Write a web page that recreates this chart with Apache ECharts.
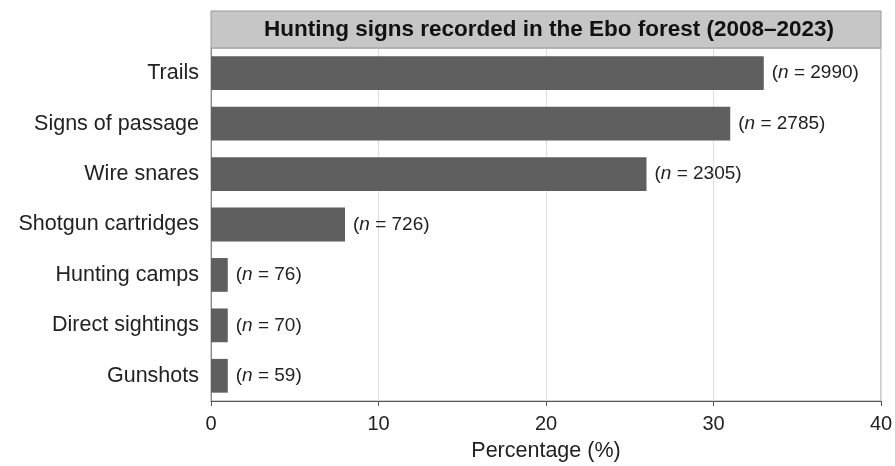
<!DOCTYPE html>
<html><head><meta charset="utf-8">
<script src="https://cdn.jsdelivr.net/npm/echarts@6/dist/echarts.min.js"></script>
<style>html,body{margin:0;padding:0;background:#fff}#c{width:895px;height:466px}</style>
</head><body><div id="c"></div>
<script>
const titleText = 'Hunting signs recorded in the Ebo forest (2008\u20132023)';
const categories = ['Trails','Signs of passage','Wire snares','Shotgun cartridges','Hunting camps','Direct sightings','Gunshots'];
const percentages = [33, 31, 26, 8, 1, 1, 1];
const counts = [2990, 2785, 2305, 726, 76, 70, 59];
const xTicks = [0, 10, 20, 30, 40];
const xAxisName = 'Percentage (%)';

const chart = echarts.init(document.getElementById('c'), null, {renderer:'canvas'});
const font = 'Arial, "Liberation Sans", Helvetica, sans-serif';
chart.setOption({
  animation:false,
  backgroundColor:'#fff',
  grid:{left:211, right:14, top:48, bottom:65, show:true, borderColor:'#a0a0a0', borderWidth:1,
    containLabel:false, outerBoundsMode:'none'},
  graphic:[
    {type:'rect', shape:{x:211, y:11, width:670, height:37}, style:{fill:'#c6c6c6', stroke:'#9a9a9a', lineWidth:1}, z:10},
    {type:'text', x:549, y:30, style:{text:titleText, font:'bold 22.5px '+font, fill:'#111', textAlign:'center', textVerticalAlign:'middle'}, z:11}
  ],
  xAxis:{type:'value', min:xTicks[0], max:xTicks[xTicks.length-1], interval:10,
    name:xAxisName, nameLocation:'middle', nameGap:39,
    nameTextStyle:{fontSize:21.5, color:'#222', fontFamily:font},
    axisLine:{show:true, lineStyle:{color:'#555', width:1}},
    axisTick:{show:true, length:5, lineStyle:{color:'#555'}},
    axisLabel:{fontSize:20, color:'#222', fontFamily:font, margin:13},
    splitLine:{show:true, lineStyle:{color:'#dedede', width:1}}
  },
  yAxis:{type:'category', data:categories, inverse:true,
    axisLine:{show:true, lineStyle:{color:'#888'}},
    axisTick:{show:false},
    axisLabel:{fontSize:21.5, color:'#222', fontFamily:font, margin:12}
  },
  series:[{type:'bar', data:percentages, barCategoryGap:'33%',
    itemStyle:{color:'#5f5f5f'},
    label:{show:true, position:'right', distance:8, fontFamily:font,
      formatter:p => '(' + '{i|n}' + ' = ' + counts[p.dataIndex] + ')',
      fontSize:19, color:'#222',
      rich:{i:{fontStyle:'italic', fontSize:19, color:'#222', fontFamily:font}}
    }
  }]
});
</script></body></html>
